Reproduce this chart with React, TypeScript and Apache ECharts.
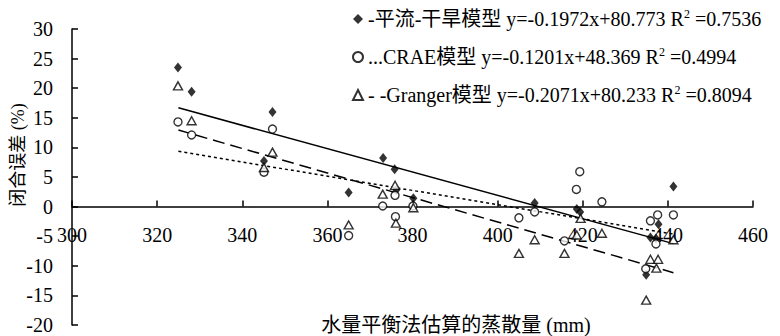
import React, { useEffect, useRef } from "react";
import * as echarts from "echarts";

// ---- data ----
const xTicks = { min: 300, max: 460, interval: 20 };
const yTicks = { min: -20, max: 30, interval: 5 };

const seriesNames = ["平流-干旱模型", "CRAE模型", "Granger模型"];
const legendPrefixes = ["-", "...", "- -"];
const trendSlopes = [-0.1972, -0.1201, -0.2071];
const trendIntercepts = [80.773, 48.369, 80.233];
const trendR2 = ["0.7536", "0.4994", "0.8094"];
const trendRange = [325, 441.3];

const aridityX = [324.9, 328.1, 345.1, 347.1, 365.0, 373.1, 375.8, 376.2, 380.2, 408.7, 418.6, 419.4, 434.9, 435.9, 437.2, 437.8, 441.3];
const aridityY = [23.5, 19.4, 7.7, 16.0, 2.4, 8.2, 6.3, 2.8, 1.4, 0.6, -0.4, -0.9, -11.5, -5.2, -5.4, -3.0, 3.4];

const craeX = [324.9, 328.1, 345.1, 347.1, 365.0, 373.0, 375.9, 376.0, 380.1, 405.0, 408.7, 415.7, 418.5, 419.3, 424.5, 434.8, 435.9, 437.2, 437.6, 441.3];
const craeY = [14.3, 12.1, 5.8, 13.1, -4.9, 0.1, 1.9, -1.7, 0.1, -1.9, -0.9, -5.8, 2.9, 5.9, 0.8, -10.5, -2.4, -6.3, -1.4, -1.4];

const grangerX = [324.9, 328.1, 345.1, 347.1, 365.0, 373.0, 375.9, 376.1, 380.2, 405.0, 408.7, 415.7, 418.6, 419.5, 424.5, 434.9, 435.9, 437.3, 437.7, 441.3];
const grangerY = [20.4, 14.5, 6.6, 9.2, -3.1, 2.1, 3.6, -2.8, -0.2, -7.9, -5.6, -7.9, -4.8, -2.0, -4.5, -15.8, -8.9, -10.4, -8.9, -5.6];

const xAxisTitle = "水量平衡法估算的蒸散量 (mm)";
const yAxisTitle = "闭合误差 (%)";

const FONT = "'Liberation Serif', 'Times New Roman', 'Noto Sans CJK SC', serif";

function zip(xs: number[], ys: number[]) {
  return xs.map((x, i) => [x, ys[i]]);
}

export default function App() {
  const ref = useRef<HTMLDivElement>(null);
  useEffect(() => {
    document.body.style.margin = "0";
    const chart = echarts.init(ref.current!, null, { renderer: "svg" });

    const gridTop = 29;
    const gridBottom = 11;
    const plotHeight = 336 - gridTop - gridBottom;
    // x axis sits on y = 0: shift it up from the grid bottom
    const zeroOffset = -((0 - yTicks.min) / (yTicks.max - yTicks.min)) * plotHeight;

    const pointSets = [zip(aridityX, aridityY), zip(craeX, craeY), zip(grangerX, grangerY)];
    const symbols = ["diamond", "circle", "triangle"];
    const symbolSizes: any[] = [[8, 10], 8, [9, 8]];
    const itemStyles = [
      { color: "#000" },
      { color: "#fff", borderColor: "#000", borderWidth: 1.4 },
      { color: "#fff", borderColor: "#000", borderWidth: 1.4 },
    ];
    const lineTypes: any[] = ["solid", [3, 3], [12, 6]];

    const labels: Record<string, string> = {};
    seriesNames.forEach((n, i) => {
      const s = trendSlopes[i].toFixed(4);
      const b = trendIntercepts[i].toFixed(3);
      labels[n] = `${legendPrefixes[i]}${n} y=${s}x+${b} R{sup|2} =${trendR2[i]}`;
    });

    const scatterSeries = seriesNames.map((n, i) => ({
      name: n,
      type: "scatter",
      data: pointSets[i],
      symbol: symbols[i],
      symbolSize: symbolSizes[i],
      itemStyle: itemStyles[i],
      z: 5,
    }));

    const trendSeries = seriesNames.map((n, i) => ({
      name: n + "趋势线",
      type: "line",
      data: trendRange.map((x) => [x, trendSlopes[i] * x + trendIntercepts[i]]),
      symbol: "none",
      lineStyle: { color: "#000", width: 1.5, type: lineTypes[i] },
      z: 2,
    }));

    chart.setOption({
      animation: false,
      grid: { left: 72, right: 27, top: gridTop, bottom: gridBottom },
      xAxis: {
        type: "value",
        min: xTicks.min,
        max: xTicks.max,
        interval: xTicks.interval,
        position: "bottom",
        offset: zeroOffset,
        axisLine: { onZero: false, lineStyle: { color: "#000", width: 1.5 } },
        axisTick: { inside: true, length: 6, lineStyle: { color: "#000", width: 1.5 } },
        axisLabel: { color: "#000", fontFamily: FONT, fontSize: 20, margin: 18, hideOverlap: false, showMinLabel: true, showMaxLabel: true },
        splitLine: { show: false },
      },
      yAxis: {
        type: "value",
        min: yTicks.min,
        max: yTicks.max,
        interval: yTicks.interval,
        axisLine: { show: true, onZero: false, lineStyle: { color: "#000", width: 1.5 } },
        axisTick: { show: true, inside: true, length: 6, lineStyle: { color: "#000", width: 1.5 } },
        axisLabel: { color: "#000", fontFamily: FONT, fontSize: 20, margin: 19, hideOverlap: false, showMinLabel: true, showMaxLabel: true },
        splitLine: { show: false },
      },
      legend: {
        orient: "vertical",
        left: 352,
        top: 8,
        padding: 0,
        itemWidth: 10,
        itemHeight: 10,
        itemGap: 16,
        selectedMode: false,
        data: seriesNames,
        formatter: (name: string) => labels[name],
        textStyle: {
          color: "#000",
          fontFamily: FONT,
          fontSize: 20,
          lineHeight: 22,
          rich: {
            sup: { fontSize: 12, fontFamily: FONT, verticalAlign: "top", lineHeight: 14, color: "#000" },
          },
        },
      },
      graphic: [
        {
          type: "text",
          x: 456,
          y: 325,
          style: {
            text: xAxisTitle,
            font: `20px ${FONT}`,
            fill: "#000",
            align: "center",
            verticalAlign: "middle",
          },
        },
        {
          type: "text",
          x: 18,
          y: 155,
          rotation: Math.PI / 2,
          style: {
            text: yAxisTitle,
            font: `18px ${FONT}`,
            fill: "#000",
            align: "center",
            verticalAlign: "middle",
          },
        },
      ],
      series: [...trendSeries, ...scatterSeries],
    });
    return () => chart.dispose();
  }, []);
  return <div ref={ref} style={{ width: 780, height: 336 }} />;
}
